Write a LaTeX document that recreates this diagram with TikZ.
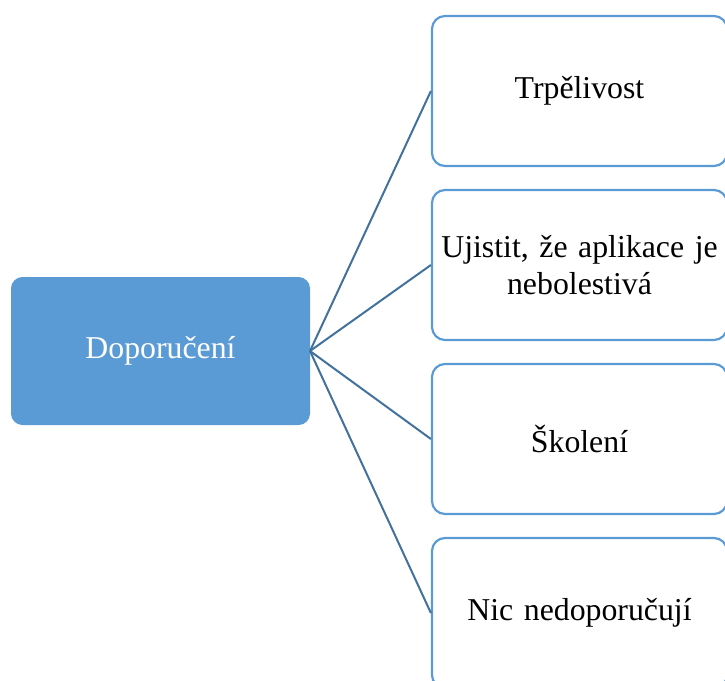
\documentclass[tikz,border=0pt]{standalone}
\usepackage{fontspec}
\setmainfont{Liberation Serif}
\definecolor{boxblue}{HTML}{5B9BD5}
\definecolor{linkblue}{HTML}{41719C}
\begin{document}
\begin{tikzpicture}[x=1pt,y=-1pt,
  rootbox/.style={draw=boxblue, fill=boxblue, rounded corners=11pt, line width=1pt,
    minimum width=298pt, minimum height=147pt, inner sep=0pt, text=white,
    font=\fontsize{31.8}{37}\selectfont},
  leafbox/.style={draw=boxblue, fill=white, rounded corners=13pt, line width=2.2pt,
    minimum width=295pt, minimum height=150pt, inner sep=0pt,
    text width=292pt, align=center, font=\fontsize{31.8}{37}\selectfont},
  link/.style={draw=linkblue, line width=2pt}]
  \useasboundingbox (0,0) rectangle (725,680);
  \begin{scope}
    \clip (0,0) rectangle (725,680);
    \node[rootbox] (root) at (160.5,351) {Doporučení};
    \node[leafbox] (a) at (579.5,91) {Trpělivost};
    \node[leafbox] (b) at (579.5,265) {Ujistit, že aplikace je\\nebolestivá};
    \node[leafbox] (c) at (579.5,439) {Školení};
    \node[leafbox] (d) at (579.5,613) {Nic nedoporučují};
    \foreach \n in {a,b,c,d}
      \draw[link] (root.east) -- (\n.west);
  \end{scope}
\end{tikzpicture}
\end{document}
